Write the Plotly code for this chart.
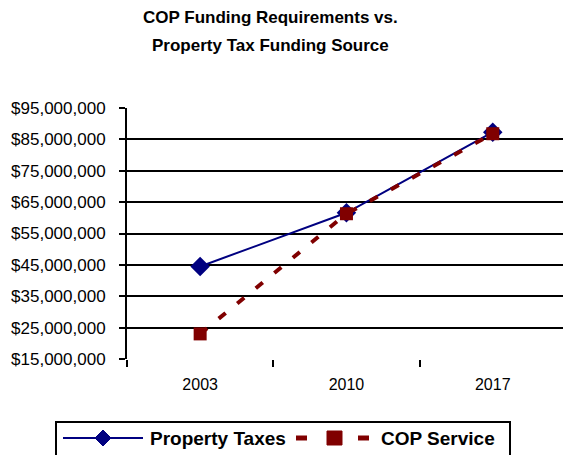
import plotly.graph_objects as go

years = ["2003", "2010", "2017"]
property_taxes = [44_500_000, 61_600_000, 87_300_000]
cop_service = [23_000_000, 61_300_000, 86_800_000]
y_ticks = [15_000_000, 25_000_000, 35_000_000, 45_000_000, 55_000_000,
           65_000_000, 75_000_000, 85_000_000, 95_000_000]
y_tick_labels = [f"${v:,.0f}" for v in y_ticks]
title_lines = ["COP Funding Requirements vs.", "Property Tax Funding Source"]
series_names = ["Property Taxes", "COP Service"]

FONT = "Liberation Sans, Arial, sans-serif"
NAVY, MAROON = "#000080", "#800000"

# plot area in pixels; helpers turn pixel positions into paper coordinates
W, H = 563, 455
PLOT_TOP, PLOT_BOTTOM, PLOT_LEFT, PLOT_RIGHT = 108, 359, 127, 563
plot_h = PLOT_BOTTOM - PLOT_TOP
plot_w = PLOT_RIGHT - PLOT_LEFT


def px(x):
    return (x - PLOT_LEFT) / plot_w


def py(y):
    return (PLOT_BOTTOM - y) / plot_h


fig = go.Figure()
fig.add_trace(go.Scatter(
    x=years, y=property_taxes, name=series_names[0],
    mode="lines+markers",
    line=dict(color=NAVY, width=2),
    marker=dict(symbol="diamond", size=15, color=NAVY),
))
fig.add_trace(go.Scatter(
    x=years, y=cop_service, name=series_names[1],
    mode="lines+markers",
    line=dict(color=MAROON, width=4, dash="9px,15px"),
    marker=dict(symbol="square", size=13, color=MAROON),
))

# two-line bold title
for text, y_px in zip(title_lines, [17, 45]):
    fig.add_annotation(
        text=f"<b>{text}</b>", xref="paper", yref="paper",
        x=px(270), y=py(y_px), xanchor="center", yanchor="middle",
        showarrow=False, font=dict(family=FONT, size=17, color="black"),
    )

# legend box drawn below the chart with long line samples
LEG_Y = 438
shapes = [
    dict(type="rect", xref="paper", yref="paper",
         x0=px(56), x1=px(510), y0=py(422), y1=py(460),
         line=dict(color="black", width=2), fillcolor="white", layer="above"),
    # Property Taxes sample: solid line with a diamond in the middle
    dict(type="line", xref="paper", yref="paper",
         x0=px(63), x1=px(143), y0=py(LEG_Y), y1=py(LEG_Y),
         line=dict(color=NAVY, width=2), layer="above"),
    dict(type="path", xref="paper", yref="paper",
         path=(f"M {px(103)} {py(LEG_Y - 8)} L {px(111)} {py(LEG_Y)} "
               f"L {px(103)} {py(LEG_Y + 8)} L {px(95)} {py(LEG_Y)} Z"),
         fillcolor=NAVY, line=dict(color=NAVY, width=1), layer="above"),
    # COP Service sample: dash, square, dash
    dict(type="line", xref="paper", yref="paper",
         x0=px(296), x1=px(307), y0=py(LEG_Y), y1=py(LEG_Y),
         line=dict(color=MAROON, width=5), layer="above"),
    dict(type="rect", xref="paper", yref="paper",
         x0=px(327), x1=px(342), y0=py(LEG_Y - 7), y1=py(LEG_Y + 7),
         fillcolor=MAROON, line=dict(color=MAROON, width=1), layer="above"),
    dict(type="line", xref="paper", yref="paper",
         x0=px(358), x1=px(369), y0=py(LEG_Y), y1=py(LEG_Y),
         line=dict(color=MAROON, width=5), layer="above"),
]
for name, x_px in zip(series_names, [148, 379]):
    fig.add_annotation(
        text=f"<b>{name}</b>", xref="paper", yref="paper",
        x=px(x_px), y=py(LEG_Y), xanchor="left", yanchor="middle",
        showarrow=False, font=dict(family=FONT, size=19, color="black"),
    )

fig.update_layout(
    width=W, height=H,
    margin=dict(l=PLOT_LEFT, r=W - PLOT_RIGHT, t=PLOT_TOP, b=H - PLOT_BOTTOM),
    paper_bgcolor="white", plot_bgcolor="white",
    font=dict(family=FONT, color="black", size=16),
    showlegend=False,
    shapes=shapes,
    xaxis=dict(
        type="category", range=[-0.5, 2.48],
        showline=False, showgrid=False, zeroline=False,
        ticks="outside", tickson="boundaries", ticklen=7, tickwidth=2,
        tickcolor="black", tickfont=dict(size=16), ticklabelstandoff=14,
    ),
    yaxis=dict(
        range=[15_000_000, 95_000_000],
        tickvals=y_ticks, ticktext=y_tick_labels,
        showgrid=True, gridcolor="black", gridwidth=2,
        showline=True, linecolor="black", linewidth=2,
        ticks="outside", ticklen=6, tickwidth=2, tickcolor="black",
        zeroline=False, tickfont=dict(size=17), ticklabelstandoff=10,
    ),
)

fig.write_html("out.html")
